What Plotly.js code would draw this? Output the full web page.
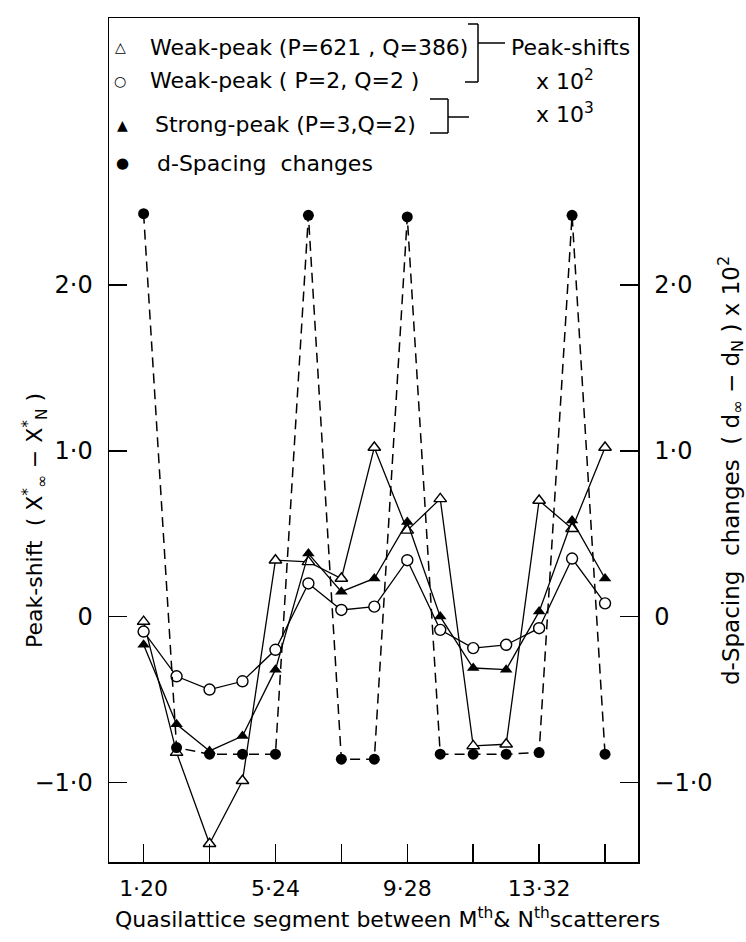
<!DOCTYPE html>
<html>
<head>
<meta charset="utf-8">
<script src="https://cdn.plot.ly/plotly-3.0.1.min.js"></script>
<style>html,body{margin:0;padding:0;background:#fff;}#chart{width:746px;height:942px;}</style>
</head>
<body>
<div id="chart"></div>
<script>
// Segment index (M) along the quasilattice
const segments = [1,2,3,4,5,6,7,8,9,10,11,12,13,14,15];
// Peak-shift series
const weakPeak621 = [-0.03,-0.82,-1.37,-0.99,0.34,0.33,0.23,1.02,0.52,0.71,-0.78,-0.77,0.70,0.53,1.02];
const weakPeak22  = [-0.09,-0.36,-0.44,-0.39,-0.20,0.20,0.04,0.06,0.34,-0.08,-0.19,-0.17,-0.07,0.35,0.08];
const strongPeak32 = [-0.17,-0.65,-0.81,-0.72,-0.32,0.38,0.15,0.23,0.57,0.00,-0.31,-0.32,0.03,0.58,0.23];
// d-spacing changes (right axis)
const dSpacing = [2.43,-0.79,-0.83,-0.83,-0.83,2.42,-0.86,-0.86,2.41,-0.83,-0.83,-0.83,-0.82,2.42,-0.83];
// Tick labels
const xTickVals = [1,5,9,13];
const xTickText = ['1·20','5·24','9·28','13·32'];
const yTickVals = [-1,0,1,2];
const yTickText = ['−1·0','0','1·0','2·0'];

const FONT = 'DejaVu Sans, sans-serif';
const W = 746, H = 942;
const L = 109, R = 638, T = 18, B = 862;
const px = x => (x - L) / (R - L);
const py = y => (B - y) / (B - T);

const traces = [
  {x: segments, y: dSpacing, yaxis: 'y2', mode: 'lines+markers',
   line: {color: '#000', width: 1.5, dash: '10px,6px'},
   marker: {symbol: 'circle', size: 11, color: '#000'}},
  {x: segments, y: weakPeak621, mode: 'lines+markers',
   line: {color: '#000', width: 1.3},
   marker: {symbol: 'triangle-up', size: 11, color: '#fff', line: {color: '#000', width: 1.4}}},
  {x: segments, y: strongPeak32, mode: 'lines+markers',
   line: {color: '#000', width: 1.3},
   marker: {symbol: 'triangle-up', size: 11, color: '#000'}},
  {x: segments, y: weakPeak22, mode: 'lines+markers',
   line: {color: '#000', width: 1.3},
   marker: {symbol: 'circle', size: 11, color: '#fff', line: {color: '#000', width: 1.4}}}
];

const yRange = [-1.48, 3.61];
const axisCommon = {
  range: yRange, tickmode: 'array', tickvals: yTickVals, ticktext: yTickText,
  ticks: 'inside', ticklen: 18, tickwidth: 1.5, tickcolor: '#000',
  showline: true, linecolor: '#000', linewidth: 1.5,
  showgrid: false, zeroline: false,
  tickfont: {family: FONT, size: 24, color: '#000'}, ticklabelstandoff: 10
};

const ann = [];
function txt(x, y, text, size, xanchor, extra) {
  ann.push(Object.assign({xref: 'paper', yref: 'paper', x: px(x), y: py(y), text: text,
    showarrow: false, xanchor: xanchor || 'center', yanchor: 'middle',
    font: {family: FONT, size: size, color: '#000'}}, extra || {}));
}
// legend
txt(120, 47, '△', 14); txt(148, 47, 'Weak-peak (P=621 , Q=386)', 22, 'left');
txt(120, 81, '○', 14); txt(148, 81, 'Weak-peak ( P=2, Q=2 )', 22, 'left');
txt(122, 125, '▲', 14); txt(153, 125, 'Strong-peak (P=3,Q=2)', 22, 'left');
txt(122, 163, '●', 15); txt(155, 163, 'd-Spacing  changes', 22, 'left');
txt(570, 47, 'Peak-shifts', 22);
txt(565, 80, 'x 10<sup>2</sup>', 22);
txt(565, 113, 'x 10<sup>3</sup>', 22);
// axis titles
txt(35, 521, 'Peak-shift  ( X<sup>*</sup><sub>∞</sub> − X<sup>*</sup><sub>N</sub> )', 22, 'center', {textangle: -90});
txt(730, 471, 'd-Spacing  changes  ( d<sub>∞</sub> − d<sub>N</sub> ) x 10<sup>2</sup>', 23, 'center', {textangle: -90});
txt(387, 918, 'Quasilattice segment between M<sup>th</sup>& N<sup>th</sup>scatterers', 22);

const shapes = [];
function seg(x0, y0, x1, y1) {
  shapes.push({type: 'line', xref: 'paper', yref: 'paper', x0: px(x0), y0: py(y0), x1: px(x1), y1: py(y1),
    line: {color: '#000', width: 1.5}});
}
seg(468, 24, 478, 24); seg(478, 24, 478, 82); seg(465, 82, 478, 82); seg(478, 43, 505, 43);
seg(430, 99, 448, 99); seg(448, 99, 448, 133); seg(430, 133, 448, 133); seg(448, 117, 469, 117);

const layout = {
  width: W, height: H,
  margin: {l: L, r: W - R, t: T, b: H - B},
  paper_bgcolor: '#fff', plot_bgcolor: '#fff',
  showlegend: false,
  xaxis: {range: [-0.05, 16.0], tickmode: 'array', tickvals: xTickVals, ticktext: xTickText,
    ticks: 'inside', ticklen: 18, tickwidth: 1.5, tickcolor: '#000',
    minor: {ticks: 'inside', ticklen: 18, tickwidth: 1.5, tickcolor: '#000', tick0: 1, dtick: 2, showgrid: false},
    showline: true, mirror: true, linecolor: '#000', linewidth: 1.5,
    showgrid: false, zeroline: false,
    tickfont: {family: FONT, size: 22, color: '#000'}, ticklabelstandoff: 6},
  yaxis: Object.assign({}, axisCommon, {side: 'left'}),
  yaxis2: Object.assign({}, axisCommon, {side: 'right', overlaying: 'y'}),
  annotations: ann,
  shapes: shapes
};

Plotly.newPlot('chart', traces, layout, {staticPlot: true});
</script>
</body>
</html>
